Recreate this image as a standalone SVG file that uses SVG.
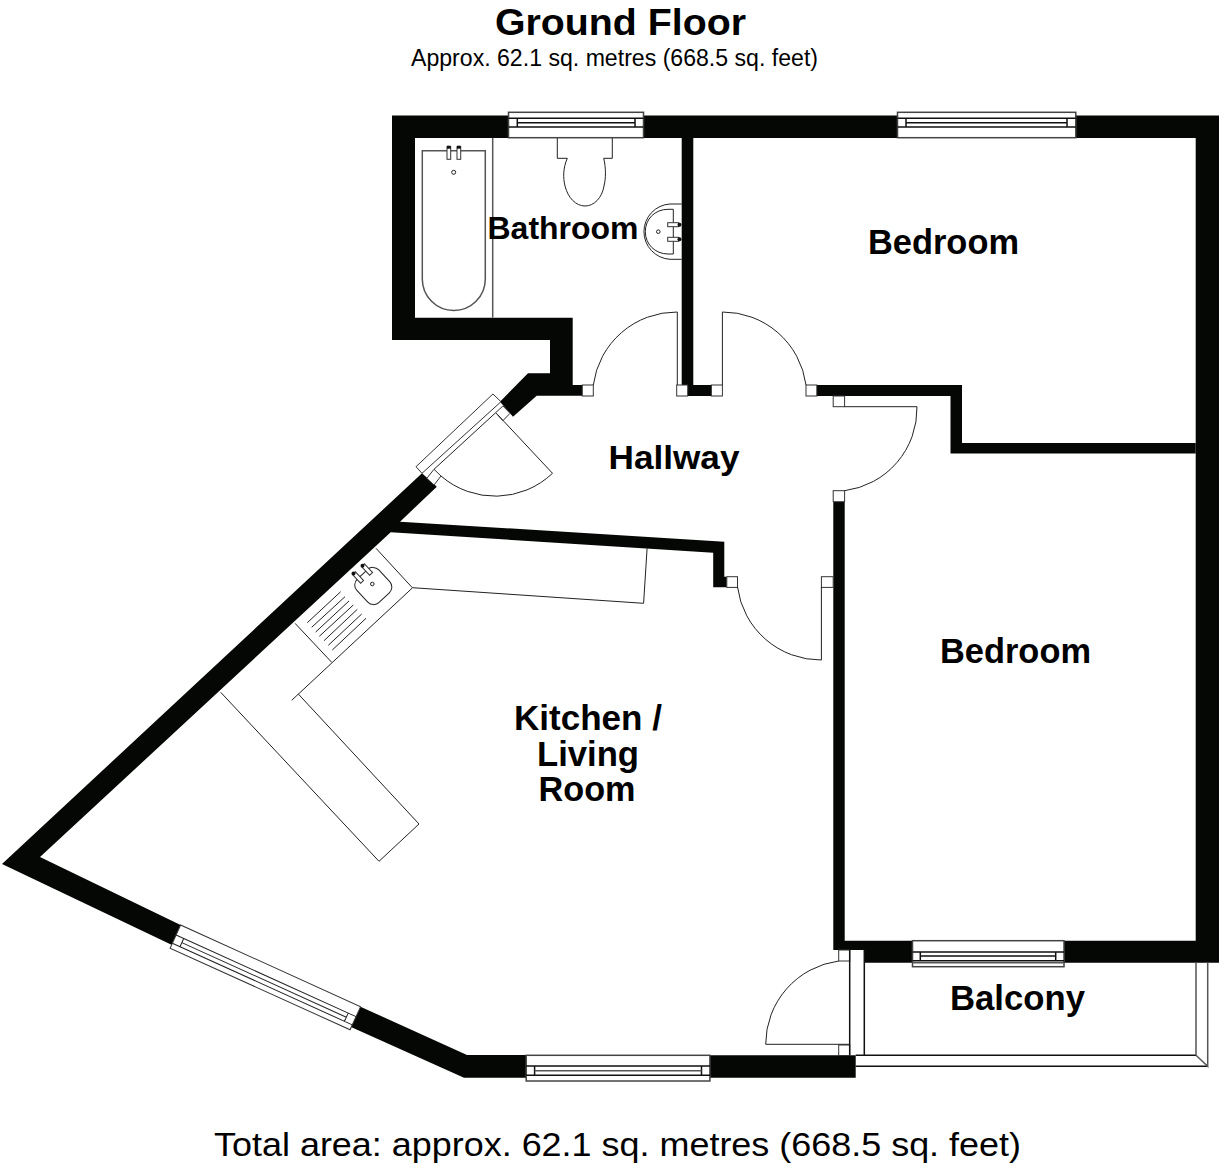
<svg xmlns="http://www.w3.org/2000/svg" width="1224" height="1169" viewBox="0 0 1224 1169">
<style>
.w{fill:#040704;stroke:none}
.l{fill:none;stroke:#222;stroke-width:1}
.g{fill:none;stroke:#555;stroke-width:1.5}
.f{fill:#fff;stroke:#333;stroke-width:1}
.win{fill:#fff;stroke:#444;stroke-width:1.5}
.k{fill:none;stroke:#111;stroke-width:1.5}
.d{fill:#111;stroke:none}
text{font-family:"Liberation Sans",Arial,sans-serif;fill:#000;text-anchor:middle}
.r{font-weight:bold;font-size:34.5px}
</style>
<rect width="1224" height="1169" fill="#fff"/>
<g id="walls">
<polygon class="w" points="392,115.5 508.5,115.5 508.5,138 415,138 415,317.7 572.7,317.7 572.7,385 582.3,385 582.3,395.7 536.7,395.7 513,416.7 500,401.7 528,373.3 550,373.3 550,340 392,340"/>
<polygon class="w" points="643,115.5 897.5,115.5 897.5,138 693.3,138 693.3,385 711.4,385 711.4,396 687.5,396 687.5,385 681.7,385 681.7,138 643,138"/>
<polygon class="w" points="1075.5,115.5 1219,115.5 1219,962.7 1064,962.7 1064,940.7 1195.7,940.7 1195.7,138 1075.5,138"/>
<polygon class="w" points="816.8,385 962,385 962,443 1195.7,443 1195.7,453.5 950.5,453.5 950.5,396 816.8,396"/>
<polygon class="w" points="833.3,501.7 844.7,501.7 844.7,940.7 912.5,940.7 912.5,962.7 864.3,962.7 864.3,950 833.3,950"/>
<polygon class="w" points="422,473.3 436.8,486.7 400,521.7 724.3,541.7 724.3,576.7 726.8,576.7 726.8,587.3 713.2,587.3 713.2,552.7 390.7,532.3 40,857 180.6,925 172,945 2,864"/>
<polygon class="w" points="360.5,1006.7 467,1055 526.2,1055 526.2,1077.7 464,1077.7 351,1027"/>
<polygon class="w" points="710,1055.3 855.7,1055.3 855.7,1077.7 710,1077.7"/>
</g>
<g id="windows">
<g id="window-bathroom">
<rect class="win" x="508.5" y="112.3" width="135" height="25.4"/>
<path class="k" d="M508.5 118.3H643.5M508.5 127H643.5M517.3 118.3V127M635 118.3V127M517.3 122.7H635"/>
</g>
<g id="window-bedroom">
<rect class="win" x="897.5" y="112.3" width="178.3" height="25.4"/>
<path class="k" d="M897.5 118.3H1075.8M897.5 127H1075.8M906 118.3V127M1067 118.3V127M906 122.7H1067"/>
</g>
<g id="window-bedroom2">
<rect class="win" x="912.5" y="940.7" width="151.5" height="26"/>
<path class="k" d="M912.5 952H1064M912.5 960.7H1064M920.3 952V960.7M1055.7 952V960.7M920.3 956H1055.7"/>
<path class="g" d="M912.5 962.7H1064"/>
</g>
<g id="window-living" transform="translate(180.6 925) rotate(24.4)">
<rect class="f" x="0" y="0" width="197.6" height="25.4"/>
<path class="l" d="M0 11H197.6M0 20H197.6M8.4 11V20M189 11V20M8.4 15.5H189"/>
</g>
<g id="window-kitchen">
<rect class="win" x="526.2" y="1055.3" width="183.7" height="25.7"/>
<path class="k" d="M526.2 1066H710M526.2 1075.3H710M534.6 1066V1075.3M701.5 1066V1075.3"/>
<path class="g" d="M534.6 1070.7H701.5"/>
</g>
</g>
<g id="doors">
<g id="door-bathroom">
<rect class="f" x="582.3" y="385" width="11" height="11"/>
<rect class="f" x="676.7" y="385" width="11" height="11"/>
<path class="l" d="M593.3 385A84 84 0 0 1 677.3 312V385"/>
</g>
<g id="door-bedroom1">
<rect class="f" x="711.4" y="385" width="11" height="11"/>
<rect class="f" x="806" y="385" width="10.8" height="11"/>
<path class="l" d="M722.4 385V312A84 84 0 0 1 806 385"/>
</g>
<g id="door-bedroom2">
<rect class="f" x="833.2" y="396" width="11.4" height="10.7"/>
<rect class="f" x="833.2" y="490.7" width="11.4" height="11"/>
<path class="l" d="M844.6 406.7H917A83 83 0 0 1 844.6 490.7"/>
</g>
<g id="door-living">
<rect class="f" x="726.8" y="576.7" width="10.7" height="10.7"/>
<rect class="f" x="821.4" y="576.7" width="11.8" height="10.7"/>
<path class="l" d="M737.5 587A84 84 0 0 0 821.4 660V587"/>
</g>
<g id="door-front">
<polygon class="f" points="416,466.7 492.9,394 501,401.7 422,473.3"/>
<polygon class="f" points="495.7,412.7 502.9,406 510,413.3 502.9,420.7"/>
<polygon class="f" points="426.8,478.3 434,469.3 441,476 434,485"/>
<path class="l" d="M434 469.3L495.7 412.7M497 414L552.5 473.3A83 83 0 0 1 441 476"/>
</g>
<g id="door-balcony">
<rect class="f" x="838.7" y="950" width="11" height="11"/>
<rect class="f" x="838.7" y="1045" width="11" height="10.5"/>
<path class="l" d="M838.7 961A84 84 0 0 0 765.7 1044.3H849.7"/>
</g>
</g>
<g id="balcony">
<path class="k" d="M849.7 950V1055.3M864.3 950V1055.3M855.7 1055.3H1196M855.7 1066.3H1207.7"/>
<path class="g" d="M1196 962.7V1055.3M1207.7 962.7V1066.3L1196 1055.3"/>
</g>
<g id="bathroom-fixtures">
<path class="g" d="M492.7 138V317.7"/>
<path class="g" d="M422.3 150.7H485.3V279A31.5 31.5 0 0 1 422.3 279Z"/>
<rect class="f" x="447" y="146.7" width="3.7" height="12.6"/>
<rect class="f" x="457" y="146.7" width="3.7" height="12.6"/>
<rect class="d" x="447" y="145.7" width="3.7" height="3"/>
<rect class="d" x="457" y="145.7" width="3.7" height="3"/>
<circle class="l" cx="453.7" cy="172.3" r="2"/>
<path class="l" d="M557.3 138V158.3H567.3C563 168 563 178 565 186C568 198 576 206 585 206C594 206 602 198 604 186C606 178 606 168 603.7 158.3H612.3V138"/>
<path class="l" d="M681.7 204H670A27.7 27.7 0 0 0 670 259.3H681.7"/>
<path class="l" d="M673.3 209.3V254H668C655 254 645.3 244 645.3 231.7C645.3 219 655 209.3 668 209.3Z"/>
<rect class="f" x="667.7" y="222.7" width="11" height="4"/>
<rect class="f" x="667.7" y="237.3" width="11" height="4"/>
<circle class="d" cx="679.5" cy="224.7" r="2"/>
<circle class="d" cx="679.5" cy="239.3" r="2"/>
<circle class="l" cx="658.3" cy="231.7" r="1.8"/>
</g>
<g id="kitchen-fixtures">
<path class="l" d="M376 548.3L412.3 587.7L643.6 603.3L647.1 548.3"/>
<path class="l" d="M412.3 588L291.7 700.3M295 623.3L331.7 662.3M298.3 694L419 824L379 861.3L220.7 692.3"/>
<path class="l" d="M307.3 622.7L340.7 591.7M311.7 627.3L345 596.7M315.7 632L349 601M319.3 636.3L353.3 605M324 640.7L357.3 609.3M328.3 645.3L361.7 614M332.3 650L366 618.3"/>
<rect class="l" x="-15" y="-16" width="30" height="32" rx="8" transform="translate(373.3 586) rotate(-43)"/>
<rect class="f" x="-2" y="-6" width="4" height="12" transform="translate(358 577.5) rotate(-43)"/>
<rect class="f" x="-2" y="-6" width="4" height="12" transform="translate(367 569.5) rotate(-43)"/>
<circle class="d" cx="353.5" cy="573.5" r="2"/>
<circle class="d" cx="362.5" cy="565.7" r="2"/>
<circle class="l" cx="372.3" cy="584" r="1.8"/>
</g>
<g id="labels">
<text id="title" x="620.5" y="34.5" font-weight="bold" font-size="37" textLength="251" lengthAdjust="spacingAndGlyphs">Ground Floor</text>
<text id="subtitle" x="614.5" y="66" font-size="23" textLength="407" lengthAdjust="spacingAndGlyphs">Approx. 62.1 sq. metres (668.5 sq. feet)</text>
<text class="r" x="563" y="239" style="font-size:32px" textLength="151" lengthAdjust="spacingAndGlyphs">Bathroom</text>
<text class="r" x="943.5" y="254" textLength="151" lengthAdjust="spacingAndGlyphs">Bedroom</text>
<text class="r" x="674" y="469" style="font-size:33px" textLength="131" lengthAdjust="spacingAndGlyphs">Hallway</text>
<text class="r" x="1015.5" y="663" textLength="151" lengthAdjust="spacingAndGlyphs">Bedroom</text>
<text class="r" x="588" y="730" textLength="148" lengthAdjust="spacingAndGlyphs">Kitchen /</text>
<text class="r" x="588" y="765.5" textLength="102" lengthAdjust="spacingAndGlyphs">Living</text>
<text class="r" x="587" y="801" textLength="97" lengthAdjust="spacingAndGlyphs">Room</text>
<text class="r" x="1017.5" y="1010" textLength="135" lengthAdjust="spacingAndGlyphs">Balcony</text>
<text id="total" x="617.5" y="1156" font-size="33" textLength="807" lengthAdjust="spacingAndGlyphs">Total area: approx. 62.1 sq. metres (668.5 sq. feet)</text>
</g>
</svg>
